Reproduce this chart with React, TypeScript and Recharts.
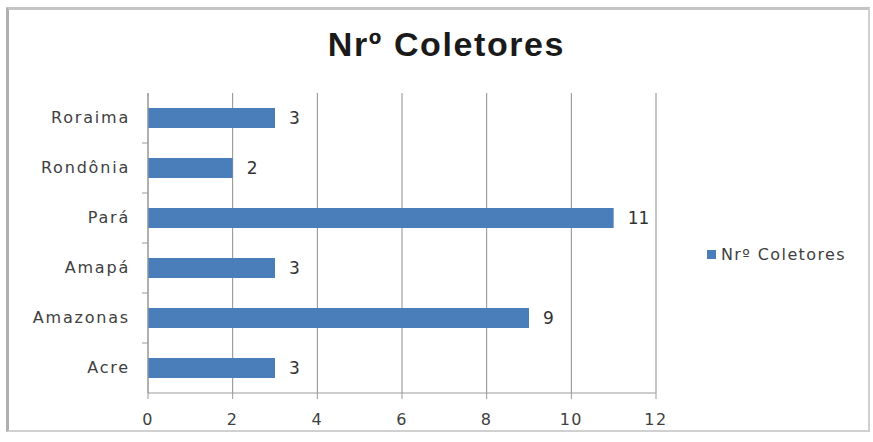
import React from 'react';
import {
  BarChart, Bar, XAxis, YAxis, CartesianGrid, LabelList,
} from 'recharts';

// estados (de cima para baixo) e número de coletores
const estados = ['Roraima', 'Rondônia', 'Pará', 'Amapá', 'Amazonas', 'Acre'];
const coletores = [3, 2, 11, 3, 9, 3];
const xTicks = [0, 2, 4, 6, 8, 10, 12];
const serie = 'Nrº Coletores';

const data = estados.map((estado, i) => ({ estado, coletores: coletores[i] }));

const W = 873;
const H = 442;
const MARGIN = { top: 93, right: 217, bottom: 19, left: 0 };
const Y_AXIS_W = 148;
const X_AXIS_H = 30;
const TICK_SIZE = 6;
const TICK_MARGIN = 12;
const BAND = (H - MARGIN.top - MARGIN.bottom - X_AXIS_H) / estados.length;
const COR = '#4a7ebb';

const font = '"DejaVu Sans", sans-serif';

const YTick = (props: any) => {
  const { x, y, payload, index } = props;
  const axisX = x + TICK_SIZE + TICK_MARGIN;
  return (
    <g>
      <text x={x} y={y} dy={5} textAnchor="end" fill="#404040" fontSize={16} fontFamily={font} letterSpacing={1.8}>
        {payload.value}
      </text>
      {index > 0 && (
        <line x1={axisX - 6} x2={axisX} y1={y - BAND / 2} y2={y - BAND / 2} stroke="#9a9a9a" />
      )}
    </g>
  );
};

const App: React.FC = () => {
  return (
    <div style={{ position: 'absolute', left: 0, top: 0, width: W, height: H, background: '#fff' }}>
      <div
        style={{
          position: 'absolute', left: 6, top: 7, width: 864, height: 425,
          borderTop: '3px solid #c4c4c4', borderLeft: '3px solid #b0b0b0',
          borderRight: '2px solid #d0d0d0', borderBottom: '2px solid #d0d0d0', boxSizing: 'border-box',
        }}
      />
      <div
        style={{
          position: 'absolute', left: 0, width: 893, top: 25, textAlign: 'center', letterSpacing: 1.6,
          fontFamily: '"Liberation Sans", Arial, sans-serif', fontWeight: 'bold', fontSize: 34, color: '#1a1a1a',
        }}
      >
        {serie}
      </div>
      <div
        style={{
          position: 'absolute', left: 707, top: 245, display: 'flex', alignItems: 'center',
          fontFamily: font, fontSize: 16, color: '#404040', letterSpacing: 1.4,
        }}
      >
        <span style={{ width: 9, height: 9, background: COR, marginRight: 5, display: 'inline-block' }} />
        {serie}
      </div>
      <BarChart
        width={W}
        height={H}
        data={data}
        layout="vertical"
        margin={MARGIN}
        barSize={20}
        style={{ position: 'absolute', left: 0, top: 0 }}
      >
        <CartesianGrid horizontal={false} stroke="#8c8c8c" />
        <XAxis
          type="number"
          domain={[0, 12]}
          ticks={xTicks}
          height={X_AXIS_H}
          stroke="#9a9a9a"
          tickSize={6}
          tickMargin={15}
          tick={{ fill: '#404040', fontSize: 16, fontFamily: font, letterSpacing: 1.5 }}
        />
        <YAxis
          type="category"
          dataKey="estado"
          width={Y_AXIS_W}
          stroke="#9a9a9a"
          tickLine={false}
          tickSize={TICK_SIZE}
          tickMargin={TICK_MARGIN}
          tick={<YTick />}
        />
        <Bar dataKey="coletores" name={serie} fill={COR} isAnimationActive={false}>
          <LabelList
            dataKey="coletores"
            position="right"
            offset={14}
            fill="#333"
            fontSize={17}
            fontFamily={font}
          />
        </Bar>
      </BarChart>
    </div>
  );
};

export default App;
